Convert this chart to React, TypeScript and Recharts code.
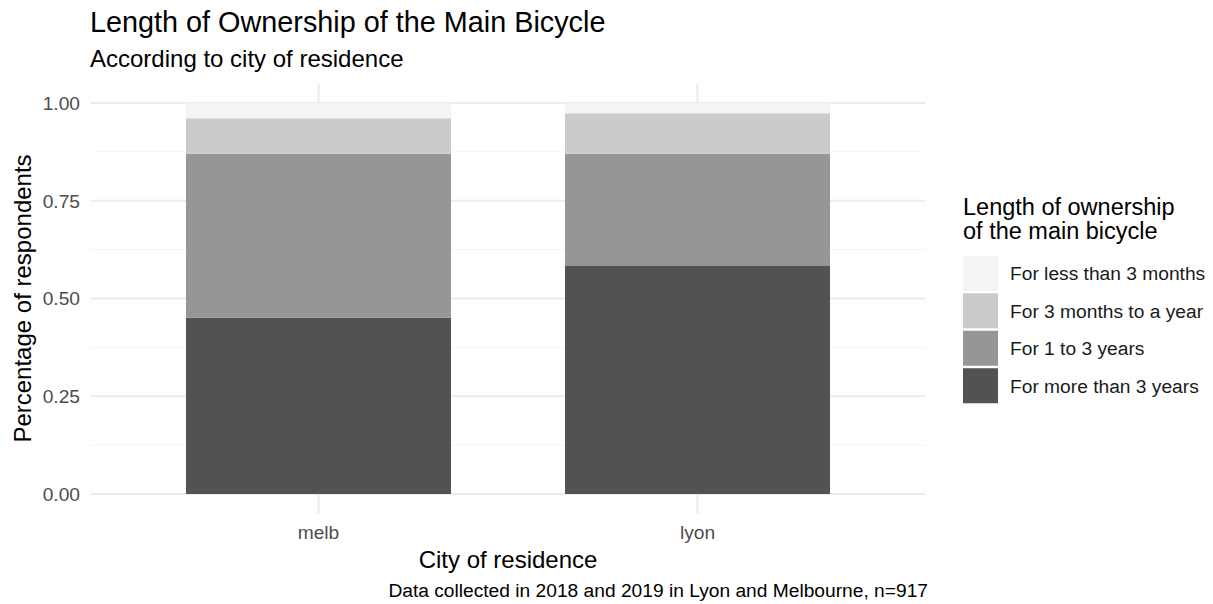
import React from 'react';
import { BarChart, Bar, XAxis, YAxis, CartesianGrid, Legend } from 'recharts';

const cities = ['melb', 'lyon'];
const moreThan3Years = [0.451, 0.583];
const oneTo3Years = [0.419, 0.287];
const threeMonthsToYear = [0.091, 0.104];
const lessThan3Months = [0.039, 0.026];

const yTicks = [0, 0.25, 0.5, 0.75, 1];
const yMinorTicks = [0.125, 0.375, 0.625, 0.875];

const seriesNames = [
  'For more than 3 years',
  'For 1 to 3 years',
  'For 3 months to a year',
  'For less than 3 months',
];
const seriesKeys = ['more3', 'oneTo3', 'threeMo', 'less3'];
const seriesColors = ['#525252', '#969696', '#cbcbcb', '#f4f4f4'];

const data = cities.map((c, i) => ({
  city: c,
  more3: moreThan3Years[i],
  oneTo3: oneTo3Years[i],
  threeMo: threeMonthsToYear[i],
  less3: lessThan3Months[i],
}));

const FONT = '"Liberation Sans", Arial, Helvetica, sans-serif';
const XPAD = 38;

const LegendContent = (props: any) => {
  const payload: any[] = props.payload || [];
  const items = seriesNames
    .map((name, i) => {
      const p = payload.find((e) => e.value === name || e.dataKey === seriesKeys[i]);
      return { name, color: (p && p.color) || seriesColors[i] };
    })
    .reverse();
  return (
    <svg width={263} height={230} style={{ display: 'block', fontFamily: FONT }}>
      <text x={13} y={25} fontSize={23.5} fill="#000">Length of ownership</text>
      <text x={13} y={49} fontSize={23.5} fill="#000">of the main bicycle</text>
      {items.map((it, i) => (
        <g key={it.name}>
          <rect x={13} y={65.75 + i * 37.5} width={35} height={35} fill={it.color} />
          <text x={60} y={90 + i * 37.5} fontSize={19.2} fill="#1a1a1a">{it.name}</text>
        </g>
      ))}
    </svg>
  );
};

const verticalGen = (props: any) => {
  const ax = props && props.xAxis;
  const s = ax && ax.scale;
  if (s && typeof s === 'function') {
    const bw = typeof s.bandwidth === 'function' ? s.bandwidth() : ax.bandSize || 0;
    const pts = cities
      .map((c) => s(c))
      .filter((v: any) => typeof v === 'number' && !isNaN(v))
      .map((v: number) => v + bw / 2);
    if (pts.length) return pts;
  }
  const off = props && props.offset;
  if (off && typeof off.left === 'number' && typeof off.width === 'number') {
    const band = (off.width - 2 * XPAD) / cities.length;
    return cities.map((_, i) => off.left + XPAD + band * (i + 0.5));
  }
  return [];
};

export default function App() {
  return (
    <div style={{ position: 'absolute', left: 0, top: 0, width: 1213, height: 604, background: '#fff', fontFamily: FONT }}>
      <BarChart
        width={1213}
        height={604}
        data={data}
        margin={{ top: 83.5, right: 288, bottom: 60.5, left: 0 }}
        barCategoryGap={0}
      >
        <CartesianGrid horizontalValues={yMinorTicks} vertical={false} stroke="#f4f4f4" strokeWidth={1} />
        <CartesianGrid horizontalValues={yTicks} vertical={false} stroke="#ebebeb" strokeWidth={2} />
        <CartesianGrid horizontal={false} vertical={true} verticalCoordinatesGenerator={verticalGen} stroke="#ebebeb" strokeWidth={2} />
        <XAxis
          dataKey="city"
          type="category"
          height={30}
          axisLine={false}
          tickLine={false}
          tickSize={0}
          tickMargin={12}
          padding={{ left: XPAD, right: XPAD }}
          tick={{ fill: '#4d4d4d', fontSize: 19.2, fontFamily: FONT }}
        />
        <YAxis
          type="number"
          width={91}
          domain={[-0.05, 1.05]}
          allowDataOverflow
          ticks={yTicks}
          tickFormatter={(v: number) => v.toFixed(2)}
          axisLine={false}
          tickLine={false}
          tickSize={0}
          tickMargin={11}
          tick={{ fill: '#4d4d4d', fontSize: 19.2, fontFamily: FONT }}
        />
        {seriesKeys.map((k, i) => (
          <Bar
            key={k}
            dataKey={k}
            name={seriesNames[i]}
            stackId="a"
            fill={seriesColors[i]}
            barSize={265}
            isAnimationActive={false}
          />
        ))}
        <Legend
          layout="horizontal"
          verticalAlign="middle"
          align="center"
          content={<LegendContent />}
          wrapperStyle={{ left: 950, top: 190, width: 263, height: 230 }}
        />
      </BarChart>
      <svg
        width={1213}
        height={604}
        style={{ position: 'absolute', left: 0, top: 0, pointerEvents: 'none', fontFamily: FONT }}
      >
        <text x={90} y={32} fontSize={28.8} fill="#000">Length of Ownership of the Main Bicycle</text>
        <text x={90} y={67} fontSize={24} fill="#000">According to city of residence</text>
        <text x={31} y={298.5} fontSize={24} fill="#000" textAnchor="middle" transform="rotate(-90 31 298.5)">
          Percentage of respondents
        </text>
        <text x={508} y={568} fontSize={24} fill="#000" textAnchor="middle">City of residence</text>
        <text x={928} y={597} fontSize={19.2} fill="#000" textAnchor="end">
          Data collected in 2018 and 2019 in Lyon and Melbourne, n=917
        </text>
      </svg>
    </div>
  );
}
